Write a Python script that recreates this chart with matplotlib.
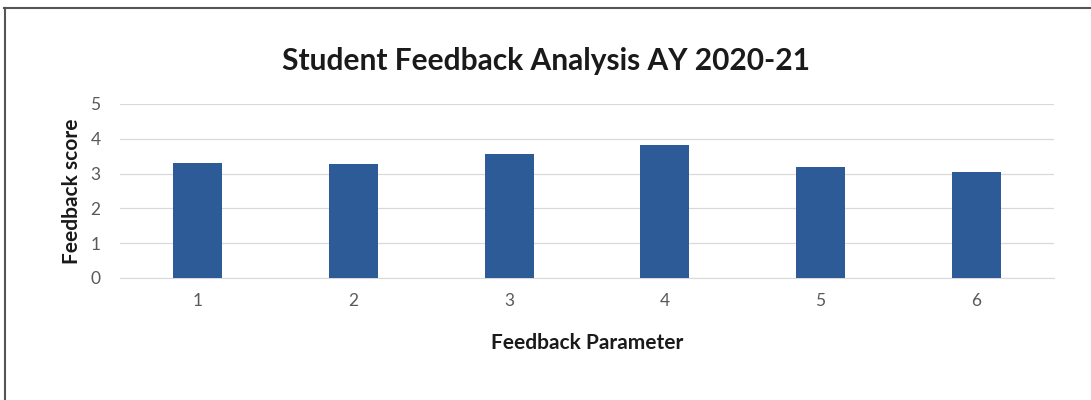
import matplotlib.pyplot as plt
from matplotlib.lines import Line2D

# feedback scores per parameter
parameters = ["1", "2", "3", "4", "5", "6"]
scores = [3.30, 3.29, 3.56, 3.82, 3.18, 3.04]
y_ticks = [0, 1, 2, 3, 4, 5]

plt.rcParams['font.family'] = ['Lato', 'DejaVu Sans']

fig = plt.figure(figsize=(10.91, 4.0), dpi=100)
ax = fig.add_axes([0.110, 0.305, 0.856, 0.435])

x = range(len(parameters))
ax.bar(x, scores, width=0.315, color='#2d5b97', zorder=3)

ax.set_xlim(-0.5, len(parameters) - 0.5)
ax.set_ylim(0, 5)
ax.set_yticks(y_ticks)
ax.set_xticks(list(x))
ax.set_xticklabels(parameters)
ax.grid(axis='y', color='#d9d9d9', linewidth=0.9, zorder=0)
ax.tick_params(length=0, labelsize=12.5, colors='#595959', pad=11)
ax.tick_params(axis='y', pad=14)
for side in ['top', 'right', 'left']:
    ax.spines[side].set_visible(False)
ax.spines['bottom'].set_color('#d9d9d9')

ax.set_xlabel('Feedback Parameter', fontsize=15, fontweight='bold', labelpad=17,
              color='#1a1a1a')
ax.set_ylabel('Feedback score', fontsize=15, fontweight='bold', labelpad=6,
              color='#1a1a1a')
fig.text(0.5, 0.848, 'Student Feedback Analysis AY 2020-21', ha='center', va='center',
         fontsize=21.5, fontweight='bold', color='#1a1a1a')

# chart frame: top and left edges
fig.add_artist(Line2D([0.004, 1.0], [0.98, 0.98], transform=fig.transFigure,
                      color='#555555', linewidth=1.5))
fig.add_artist(Line2D([0.005, 0.005], [0.0, 0.98], transform=fig.transFigure,
                      color='#555555', linewidth=1.5))

fig.savefig('out.png', dpi=100)
